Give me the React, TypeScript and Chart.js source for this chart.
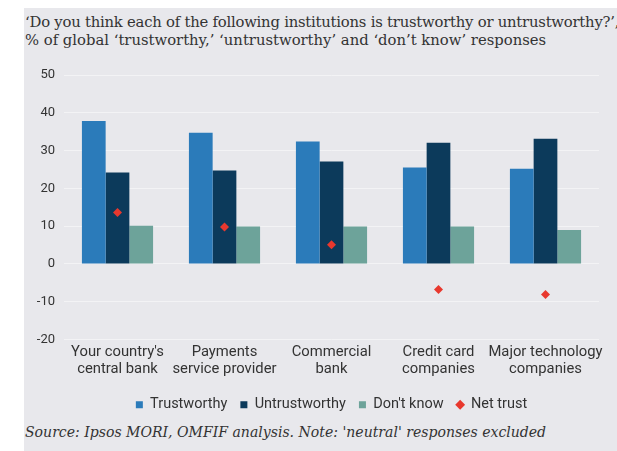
import React, { useEffect, useRef } from "react";
import { Chart, registerables } from "chart.js";

Chart.register(...registerables);

const categories: string[][] = [
  ["Your country's", "central bank"],
  ["Payments", "service provider"],
  ["Commercial", "bank"],
  ["Credit card", "companies"],
  ["Major technology", "companies"],
];
const trustworthy = [37.8, 34.7, 32.4, 25.5, 25.2];
const untrustworthy = [24.2, 24.7, 27.1, 32.1, 33.1];
const dontKnow = [10.1, 9.9, 9.9, 9.9, 9.0];
const netTrust = [13.6, 9.8, 5.1, -6.8, -8.1];
const yTicks = [-20, -10, 0, 10, 20, 30, 40, 50];

const titleLines = [
  "‘Do you think each of the following institutions is trustworthy or untrustworthy?’,",
  "% of global ‘trustworthy,’ ‘untrustworthy’ and ‘don’t know’ responses",
];
const sourceText = "Source: Ipsos MORI, OMFIF analysis. Note: 'neutral' responses excluded";

const BG = "#e8e8ec";
const TEXT = "#333333";

const legendOnPlot = {
  id: "legendOnPlot",
  afterLayout(chart: any) {
    const lg = chart.legend;
    if (lg) {
      lg.left = chart.chartArea.left;
      lg.right = chart.chartArea.right;
    }
  },
};

export default function App() {
  const ref = useRef<HTMLCanvasElement | null>(null);

  useEffect(() => {
    if (!ref.current) return;
    const chart = new Chart(ref.current, {
      type: "bar",
      data: {
        labels: categories,
        datasets: [
          {
            label: "Trustworthy",
            data: trustworthy,
            backgroundColor: "#2b7bba",
            pointStyle: "rect",
            barPercentage: 1,
            categoryPercentage: 0.665,
            order: 2,
          },
          {
            label: "Untrustworthy",
            data: untrustworthy,
            backgroundColor: "#0c3a5b",
            pointStyle: "rect",
            barPercentage: 1,
            categoryPercentage: 0.665,
            order: 2,
          },
          {
            label: "Don't know",
            data: dontKnow,
            backgroundColor: "#6da39a",
            pointStyle: "rect",
            barPercentage: 1,
            categoryPercentage: 0.665,
            order: 2,
          },
          {
            type: "line",
            label: "Net trust",
            data: netTrust,
            showLine: false,
            pointStyle: "rectRot",
            pointRadius: 4.5,
            pointHoverRadius: 4.5,
            backgroundColor: "#e8382e",
            borderColor: "#e8382e",
            borderWidth: 0,
            order: 1,
          } as any,
        ],
      },
      options: {
        responsive: false,
        animation: false,
        layout: { padding: { top: 17, right: 18, bottom: 0, left: 0 } },
        plugins: {
          tooltip: { enabled: false },
          legend: {
            position: "bottom",
            labels: {
              usePointStyle: true,
              boxHeight: 7,
              boxWidth: 7,
              padding: 13,
              color: TEXT,
              font: { family: "Roboto", size: 14.5 },
              sort: (a: any, b: any) => a.datasetIndex - b.datasetIndex,
            },
          },
        },
        scales: {
          x: {
            grid: { display: false, drawTicks: false },
            border: { display: false },
            ticks: {
              color: TEXT,
              padding: 5,
              maxRotation: 0,
              autoSkip: false,
              font: { family: "Roboto", size: 14.8, lineHeight: 1.1 },
            },
            afterFit: (s: any) => {
              s.height = 45;
            },
          },
          y: {
            min: -20,
            max: 50,
            grid: { color: "#f3f3f5", lineWidth: 1, drawTicks: false },
            border: { display: false },
            afterBuildTicks: (s: any) => {
              s.ticks = yTicks.map((v) => ({ value: v }));
            },
            ticks: {
              color: TEXT,
              padding: 9,
              font: { family: "Roboto", size: 13 },
            },
            afterFit: (s: any) => {
              s.width = 40;
            },
          },
        },
      },
      plugins: [legendOnPlot],
    });
    return () => chart.destroy();
  }, []);

  return (
    <div
      style={{
        position: "absolute",
        left: 24,
        top: 8,
        width: 593,
        height: 443,
        background: BG,
        overflow: "hidden",
      }}
    >
      <div
        style={{
          position: "absolute",
          left: 1,
          top: 5,
          fontFamily: "'DejaVu Serif', serif",
          fontSize: 14.8,
          lineHeight: "18px",
          color: TEXT,
          whiteSpace: "nowrap",
        }}
      >
        <div style={{ letterSpacing: "-0.22px" }}>{titleLines[0]}</div>
        <div>{titleLines[1]}</div>
      </div>
      <canvas
        ref={ref}
        width={593}
        height={364}
        style={{ position: "absolute", left: 0, top: 50, width: 593, height: 364 }}
      />
      <div
        style={{
          position: "absolute",
          left: 1,
          top: 416,
          fontFamily: "'DejaVu Serif', serif",
          fontStyle: "italic",
          fontSize: 14.05,
          lineHeight: "17px",
          color: TEXT,
          whiteSpace: "nowrap",
        }}
      >
        {sourceText}
      </div>
    </div>
  );
}
